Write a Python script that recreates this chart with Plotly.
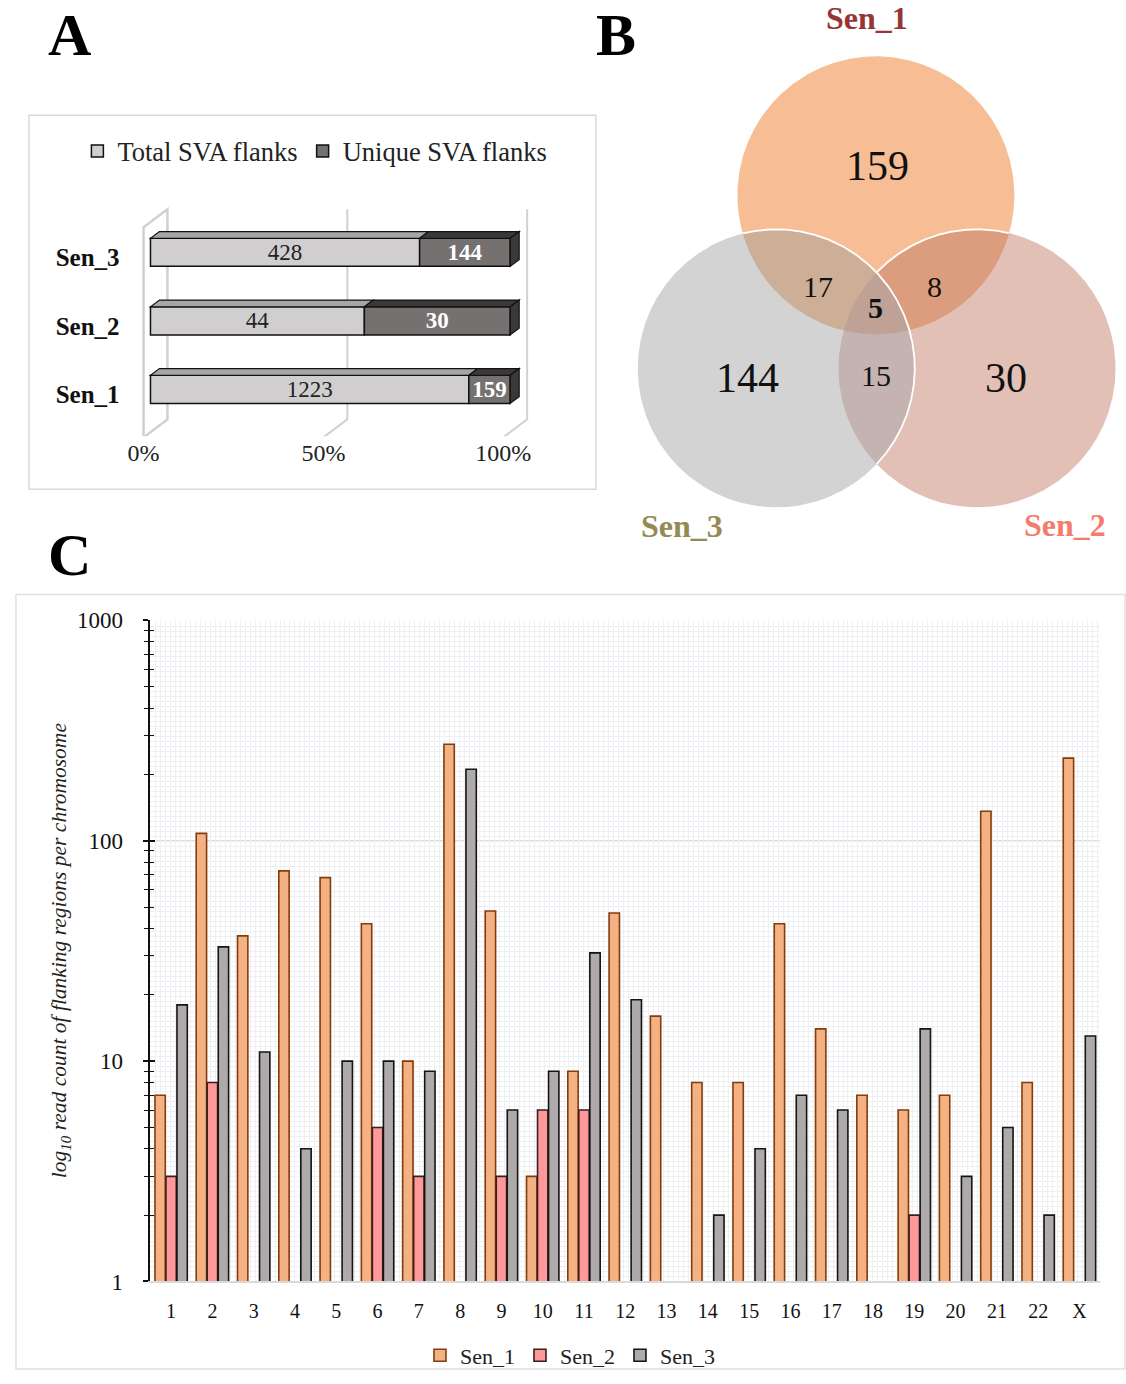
import numpy as np
import plotly.graph_objects as go

W, H = 1126, 1384
FONT = "Liberation Serif"

# The captured page is mapped vertically as  y_shot = REF_TOP + SCALE_Y * y_page ;
# all layout positions below are given in screenshot (reference) pixels.
REF_TOP = 13.7
SCALE_Y = 0.9818


def px(x):
    return x / W


def py(y):
    return 1 - ((y - REF_TOP) / SCALE_Y) / H


# ---------------- DATA ----------------
# Panel A
samples_A = ["Sen_1", "Sen_2", "Sen_3"]
total_flanks = [1223, 44, 428]
unique_flanks = [159, 30, 144]
pct_ticks = [0, 0.5, 1.0]
pct_labels = ["0%", "50%", "100%"]

# Panel B (Venn)
venn_names = ["Sen_1", "Sen_2", "Sen_3"]
venn_only = [159, 30, 144]
venn_s1_s2 = 8
venn_s1_s3 = 17
venn_s2_s3 = 15
venn_all = 5

# Panel C
chromosomes = [str(i) for i in range(1, 23)] + ["X"]
sen1 = [7, 108, 37, 73, 68, 42, 10, 274, 48, 3, 9, 47, 16, 8, 8, 42, 14, 7, 6, 7, 136, 8, 237]
sen2 = [3, 8, None, None, None, 5, 3, None, 3, 6, 6, None, None, None, None, None, None, None, 2,
        None, None, None, None]
sen3 = [18, 33, 11, 4, 10, 10, 9, 211, 6, 9, 31, 19, None, 2, 4, 7, 6, None, 14, 3, 5, 2, 13]
y_major = [1, 10, 100, 1000]
y_minor = [m * d for d in (1, 10, 100) for m in range(2, 10)]

fig = go.Figure()

# ---------------- PANEL C ----------------
styles_c = {
    "Sen_1": ("#F4B183", "#843C0C"),
    "Sen_2": ("#FF9999", "#3A1F1F"),
    "Sen_3": ("#AEAAAA", "#151515"),
}
for name, vals in (("Sen_1", sen1), ("Sen_2", sen2), ("Sen_3", sen3)):
    fill, line = styles_c[name]
    fig.add_trace(go.Bar(
        x=chromosomes, y=vals, name=name, xaxis="x", yaxis="y", legend="legend",
        marker=dict(color=fill, line=dict(color=line, width=1.6)),
        hoverinfo="x+y+name",
    ))

# fine background grid (overlay axes)
fig.add_trace(go.Scatter(x=[0], y=[0], xaxis="x4", yaxis="y4", mode="markers",
                         marker=dict(opacity=0), showlegend=False, hoverinfo="skip"))
# inside half of the cross ticks
fig.add_trace(go.Scatter(x=["1"], y=[1], xaxis="x", yaxis="y5", mode="markers",
                         marker=dict(opacity=0), showlegend=False, hoverinfo="skip"))

# ---------------- PANEL A ----------------
frac_total = [t / (t + u) for t, u in zip(total_flanks, unique_flanks)]
frac_unique = [u / (t + u) for t, u in zip(total_flanks, unique_flanks)]
ypos_A = list(range(len(samples_A)))
BAR_W = 0.41
HW = BAR_W / 2

fig.add_trace(go.Bar(
    y=ypos_A, x=frac_total, base=[0] * 3, orientation="h", width=BAR_W, offsetgroup="A",
    name="Total SVA flanks", legend="legend2", xaxis="x2", yaxis="y2",
    marker=dict(color="#D0CECE", line=dict(color="#111111", width=1.5)),
    text=[str(v) for v in total_flanks], textposition="inside", insidetextanchor="middle",
    constraintext="none", textangle=0,
    textfont=dict(family=FONT, size=23, color="#222222"), hoverinfo="skip",
))
fig.add_trace(go.Bar(
    y=ypos_A, x=frac_unique, base=frac_total, orientation="h", width=BAR_W, offsetgroup="A",
    name="Unique SVA flanks", legend="legend2", xaxis="x2", yaxis="y2",
    marker=dict(color="#767171", line=dict(color="#111111", width=1.5)),
    text=["<b>%d</b>" % v for v in unique_flanks], textposition="inside",
    insidetextanchor="middle", constraintext="none", textangle=0,
    textfont=dict(family=FONT, size=23, color="white"), hoverinfo="skip",
))

# 3-D projection helpers for panel A (data units of x2 / y2, reference pixels)
PX_PER_X = 361.0
PX_PER_Y = 68.5
T0, T1 = 0.29, 0.665
DDX = 24 / PX_PER_X
DDY = 18 / PX_PER_Y


def proj(v, t, y_at_t0):
    return v + (t - T0) * DDX, y_at_t0 + (t - T0) * DDY


def path(points, close=True):
    s = "M " + " L ".join("%.5f,%.5f" % p for p in points)
    return s + (" Z" if close else "")


FLOOR = -0.701 + T0 * DDY
CEIL = 2.365 + T0 * DDY
shapes = []
wall_col = "#D0D0D0"
shapes.append(dict(type="path", xref="x2", yref="y2", layer="below",
                   path=path([proj(0, 0, FLOOR), proj(0, 0, CEIL), proj(0, 1, CEIL), proj(0, 1, FLOOR)]),
                   fillcolor="white", line=dict(color=wall_col, width=2.5)))
for v in (0.5, 1.0):
    shapes.append(dict(type="path", xref="x2", yref="y2", layer="below",
                       path=path([proj(v, 0, FLOOR), proj(v, 1, FLOOR), proj(v, 1, CEIL)], close=False),
                       line=dict(color=wall_col, width=2)))
for k, ft in zip(ypos_A, frac_total):
    yt = k + HW
    for a, b, col in ((0, ft, "#A6A6A6"), (ft, 1.0, "#3B3838")):
        shapes.append(dict(type="path", xref="x2", yref="y2", layer="above",
                           path=path([(a, yt), (b, yt), proj(b, T1, yt), proj(a, T1, yt)]),
                           fillcolor=col, line=dict(color="#111111", width=1.2)))
    shapes.append(dict(type="path", xref="x2", yref="y2", layer="above",
                       path=path([(1.0, k - HW), (1.0, yt), proj(1.0, T1, yt), proj(1.0, T1, k - HW)]),
                       fillcolor="#3B3838", line=dict(color="#111111", width=1.2)))

shapes.append(dict(type="rect", xref="paper", yref="paper", layer="below",
                   x0=px(25), x1=px(594), y0=py(491), y1=py(117),
                   line=dict(color="#D9D9D9", width=1.5)))
shapes.append(dict(type="rect", xref="paper", yref="paper", layer="below",
                   x0=px(12), x1=px(1125), y0=max(py(1383), 0.0015), y1=py(596),
                   line=dict(color="#E0E0E0", width=1.5)))

# ---------------- PANEL B (Venn) ----------------
C1 = (875.0, 197.0, 139.0)   # Sen_1
C2 = (976.5, 370.0, 139.0)   # Sen_2
C3 = (775.0, 370.0, 139.0)   # Sen_3


def circle_pts(c, n=1440):
    th = np.linspace(0, 2 * np.pi, n, endpoint=False)
    return c[0] + c[2] * np.cos(th), c[1] + c[2] * np.sin(th)


def inside(x, y, c, tol=1.0):
    return (x - c[0]) ** 2 + (y - c[1]) ** 2 <= c[2] ** 2 + tol


def intersection_poly(circles):
    xs, ys = [], []
    for i, c in enumerate(circles):
        x, y = circle_pts(c)
        m = np.ones_like(x, dtype=bool)
        for j, o in enumerate(circles):
            if j != i:
                m &= inside(x, y, o)
        xs.append(x[m])
        ys.append(y[m])
    X = np.concatenate(xs)
    Y = np.concatenate(ys)
    cx, cy = X.mean(), Y.mean()
    order = np.argsort(np.arctan2(Y - cy, X - cx))
    return list(X[order]) + [X[order][0]], list(Y[order]) + [Y[order][0]]


def arc_runs(c, mask_fn):
    x, y = circle_pts(c)
    m = mask_fn(x, y)
    k = int(np.argmin(m))
    x, y, m = np.roll(x, -k), np.roll(y, -k), np.roll(m, -k)
    runs, cur = [], []
    for i in range(len(m)):
        if m[i]:
            cur.append(i)
        elif cur:
            runs.append(cur)
            cur = []
    if cur:
        runs.append(cur)
    return [(x[r], y[r]) for r in runs]


def add_poly(xs, ys, color):
    fig.add_trace(go.Scatter(x=xs, y=ys, xaxis="x3", yaxis="y3", mode="lines", fill="toself",
                             fillcolor=color, line=dict(width=0, color=color),
                             showlegend=False, hoverinfo="skip"))


for c, col in ((C1, "#F7BE96"), (C2, "#E2C0B6"), (C3, "#D3D3D3")):
    x, y = circle_pts(c)
    add_poly(list(x) + [x[0]], list(y) + [y[0]], col)
for cs, col in (((C1, C3), "#CDAF97"), ((C1, C2), "#DC9C7E"), ((C2, C3), "#C4B3B0"),
                ((C1, C2, C3), "#BFA196")):
    xs, ys = intersection_poly(cs)
    add_poly(xs, ys, col)

white_arcs = []
white_arcs += arc_runs(C2, lambda x, y: inside(x, y, C1, 0) & ~inside(x, y, C3, 0))
white_arcs += arc_runs(C3, lambda x, y: inside(x, y, C1, 0) | inside(x, y, C2, 0))
for xa, ya in white_arcs:
    fig.add_trace(go.Scatter(x=xa, y=ya, xaxis="x3", yaxis="y3", mode="lines",
                             line=dict(color="white", width=1.8), showlegend=False, hoverinfo="skip"))

annotations = []


def venn_text(x, y, txt, size, bold=False):
    annotations.append(dict(x=x, y=y, xref="x3", yref="y3", text=("<b>%s</b>" % txt) if bold else txt,
                            showarrow=False, xanchor="center", yanchor="middle",
                            font=dict(family=FONT, size=size, color="#111111")))


venn_text(877, 168, str(venn_only[0]), 42)
venn_text(1006, 380, str(venn_only[1]), 42)
venn_text(746, 380, str(venn_only[2]), 42)
venn_text(817, 288, str(venn_s1_s3), 30)
venn_text(934, 288, str(venn_s1_s2), 30)
venn_text(875, 377, str(venn_s2_s3), 30)
venn_text(875, 309, str(venn_all), 30, bold=True)

for (x, y, name, col) in ((866, 20, venn_names[0], "#963634"),
                          (1065, 527, venn_names[1], "#F47C6C"),
                          (680, 528, venn_names[2], "#948A54")):
    annotations.append(dict(x=x, y=y, xref="x3", yref="y3", text="<b>%s</b>" % name, showarrow=False,
                            xanchor="center", yanchor="middle",
                            font=dict(family=FONT, size=32, color=col)))

for (x, y, letter) in ((66, 37, "A"), (614, 37, "B"), (66, 557, "C")):
    annotations.append(dict(x=px(x), y=py(y), xref="paper", yref="paper", text="<b>%s</b>" % letter,
                            showarrow=False, xanchor="center", yanchor="middle",
                            font=dict(family=FONT, size=60, color="black")))

annotations.append(dict(x=px(57), y=py(952), xref="paper", yref="paper",
                        text="<i>log<sub>10</sub> read count of flanking regions per chromosome</i>",
                        textangle=-90, showarrow=False, xanchor="center", yanchor="middle",
                        font=dict(family=FONT, size=21.5, color="#222222")))

# ---------------- LAYOUT ----------------
x2_lo = (128 - 147) / PX_PER_X
x2_hi = (580 - 147) / PX_PER_X
y2_lo = -(438 - 391) / PX_PER_Y
y2_hi = (391 - 190) / PX_PER_Y
LABEL_DROP = 5 / PX_PER_Y   # category labels sit slightly below the bar fronts

fig.update_layout(
    width=W, height=H, margin=dict(l=0, r=0, t=0, b=0),
    paper_bgcolor="white", plot_bgcolor="white",
    font=dict(family=FONT, color="#111111"),
    barmode="group", bargap=0.2, bargroupgap=0.06,
    shapes=shapes, annotations=annotations,
    xaxis=dict(domain=[px(147), px(1100)], anchor="y", type="category",
               range=[-0.5, len(chromosomes) - 0.5], autorange=False,
               showline=True, linecolor="#D9D9D9", linewidth=1.5, showgrid=False,
               ticks="outside", ticklen=11, tickcolor="rgba(0,0,0,0)",
               tickfont=dict(family=FONT, size=20, color="#111111")),
    yaxis=dict(domain=[py(1283), py(622)], anchor="x", type="log", range=[0, 3],
               tickvals=y_major, ticktext=[str(v) for v in y_major],
               showline=True, linecolor="#111111", linewidth=2,
               ticks="outside", ticklen=5, tickwidth=1.5, tickcolor="#111111",
               minor=dict(tickvals=y_minor, ticks="outside", ticklen=4, tickwidth=1.3,
                          tickcolor="#111111", showgrid=False),
               showgrid=True, gridcolor="#DCDCDC", gridwidth=1, zeroline=False,
               ticklabelstandoff=16,
               tickfont=dict(family=FONT, size=23, color="#111111")),
    xaxis4=dict(overlaying="x", anchor="y4", range=[0, 953], dtick=5, showgrid=True,
                gridcolor="#EEF0F3", gridwidth=1, showticklabels=False, ticks="",
                zeroline=False, showline=False),
    yaxis4=dict(overlaying="y", anchor="x4", range=[0, 661], dtick=5, showgrid=True,
                gridcolor="#EEF0F3", gridwidth=1, showticklabels=False, ticks="",
                zeroline=False, showline=False),
    yaxis5=dict(overlaying="y", anchor="x", type="log", range=[0, 3], side="left",
                tickvals=y_major, ticks="inside", ticklen=5, tickwidth=1.5, tickcolor="#111111",
                minor=dict(tickvals=y_minor, ticks="inside", ticklen=4, tickwidth=1.3,
                           tickcolor="#111111", showgrid=False),
                showticklabels=False, showgrid=False, zeroline=False, showline=False),
    xaxis2=dict(domain=[px(128), px(580)], anchor="y2", range=[x2_lo, x2_hi],
                tickvals=[v - T0 * DDX for v in pct_ticks], ticktext=pct_labels,
                ticks="", showgrid=False, zeroline=False, showline=False,
                tickfont=dict(family=FONT, size=24, color="#222222")),
    yaxis2=dict(domain=[py(438), py(190)], anchor="x2", range=[y2_lo, y2_hi],
                tickvals=[k - LABEL_DROP for k in ypos_A],
                ticktext=["<b>%s</b>" % s for s in samples_A],
                ticks="outside", ticklen=6, tickcolor="rgba(0,0,0,0)",
                showgrid=False, zeroline=False, showline=False,
                tickfont=dict(family=FONT, size=25, color="#111111")),
    xaxis3=dict(domain=[px(600), 1], anchor="y3", range=[600, 1126], visible=False),
    yaxis3=dict(domain=[py(560), 1], anchor="x3", range=[560, REF_TOP], visible=False),
    legend=dict(orientation="h", x=px(568), xanchor="center", y=py(1357), yanchor="middle",
                bgcolor="rgba(0,0,0,0)", font=dict(family=FONT, size=22, color="#222222"),
                itemwidth=30, traceorder="normal"),
    legend2=dict(orientation="h", x=px(312), xanchor="center", y=py(153), yanchor="middle",
                 bgcolor="rgba(0,0,0,0)", font=dict(family=FONT, size=26.5, color="#222222"),
                 itemwidth=30, traceorder="normal"),
)

fig.write_html("out.html")
